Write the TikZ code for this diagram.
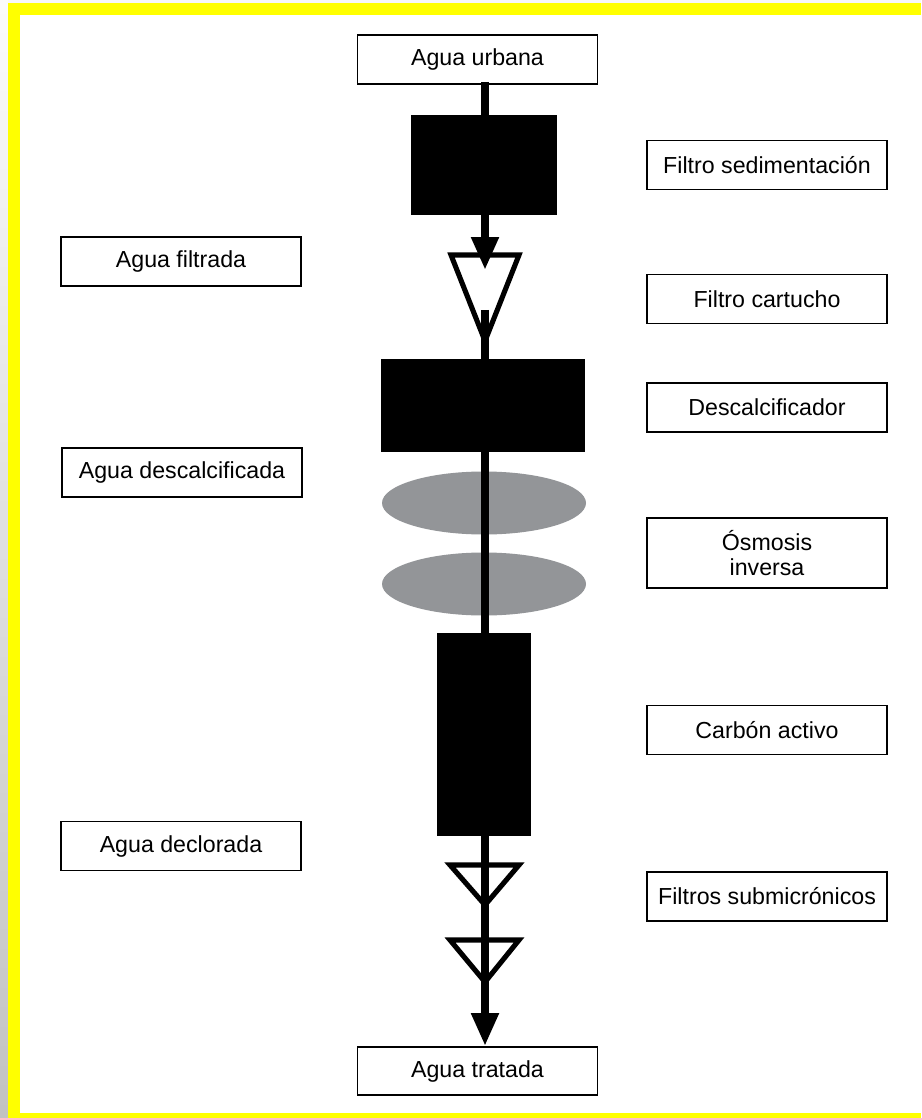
\documentclass[tikz,border=0pt]{standalone}
\usepackage{fontspec}
\setmainfont{Liberation Sans}
\usetikzlibrary{arrows.meta}
\definecolor{marco}{RGB}{255,255,0}
\definecolor{membrana}{RGB}{147,149,152}
\tikzset{
  etiqueta/.style={draw,line width=1.1pt,minimum width=4.8cm,minimum height=0.98cm,inner sep=0pt,align=center,font=\fontsize{13.2}{14.5}\selectfont},
  bloque/.style={fill=black,inner sep=0pt},
  flujo/.style={line width=4.5pt},
  cono/.style={line width=2.9pt,line join=miter},
  punta/.style={-{Triangle[length=0.66cm,width=0.52cm]}}
}
\begin{document}
\begin{tikzpicture}[x=0.02cm,y=-0.02cm]
                \useasboundingbox (0,0) rectangle (921,1118);
                \fill[white] (0,0) rectangle (921,1118);
                \shade[top color=gray!3,bottom color=gray!48] (0,0) rectangle (8,1118);
                \fill[gray!6] (8,0) rectangle (921,3);
                \fill[marco] (8,3) rectangle (921,15);
                \fill[marco] (8,3) rectangle (20,1118);
                \fill[marco] (8,1113) rectangle (921,1118);
                % linea principal
                \node[etiqueta] (urbana) at (477.5,59.5) {Agua urbana};
                \node[etiqueta,minimum height=0.96cm] (tratada) at (477.5,1071) {Agua tratada};
                \node[bloque,minimum width=2.94cm,minimum height=2cm] (sedim) at (484,165) {};
                \node[bloque,minimum width=4.1cm,minimum height=1.86cm] (descal) at (483,405.5) {};
                \node[bloque,minimum width=1.88cm,minimum height=4.06cm] (carbon) at (484,734.5) {};
                \fill[membrana] (484,503) ellipse (102 and 31.5);
                \fill[membrana] (484,584) ellipse (102 and 31.5);
                \coordinate (cartin) at (485,270);
                \coordinate (cartout) at (485,310);
                \draw[flujo] (485,82) -- (sedim.north -| 485,0);
                \draw[flujo,punta] (sedim.south -| 485,0) -- (cartin);
                \draw[flujo] (cartout) -- (descal.north -| 485,0);
                \draw[flujo] (descal.south -| 485,0) -- (carbon.north -| 485,0);
                \draw[flujo,punta] (carbon.south -| 485,0) -- (tratada.north -| 485,0);
                \draw[cono] (451,255) -- (519,255) -- (485,341) -- cycle;
                \draw[cono] (450,865) -- (519,865) -- (485,905) -- cycle;
                \draw[cono] (450,940) -- (519,940) -- (485,982) -- cycle;
                % etiquetas izquierda
                \node[etiqueta] (filtrada) at (181,261.5) {Agua filtrada};
                \node[etiqueta] (descalcificada) at (182,472.5) {Agua descalcificada};
                \node[etiqueta] (declorada) at (181,846) {Agua declorada};
                % etiquetas derecha
                \node[etiqueta] (filsed) at (767,165) {Filtro sedimentación};
                \node[etiqueta] (filcar) at (767,299) {Filtro cartucho};
                \node[etiqueta] (descalc) at (767,407.5) {Descalcificador};
                \node[etiqueta,minimum height=1.4cm] (osmosis) at (767,553) {Ósmosis\\inversa};
                \node[etiqueta] (activo) at (767,730) {Carbón activo};
                \node[etiqueta] (submicro) at (767,896.5) {Filtros submicrónicos};
            \end{tikzpicture}
\end{document}
